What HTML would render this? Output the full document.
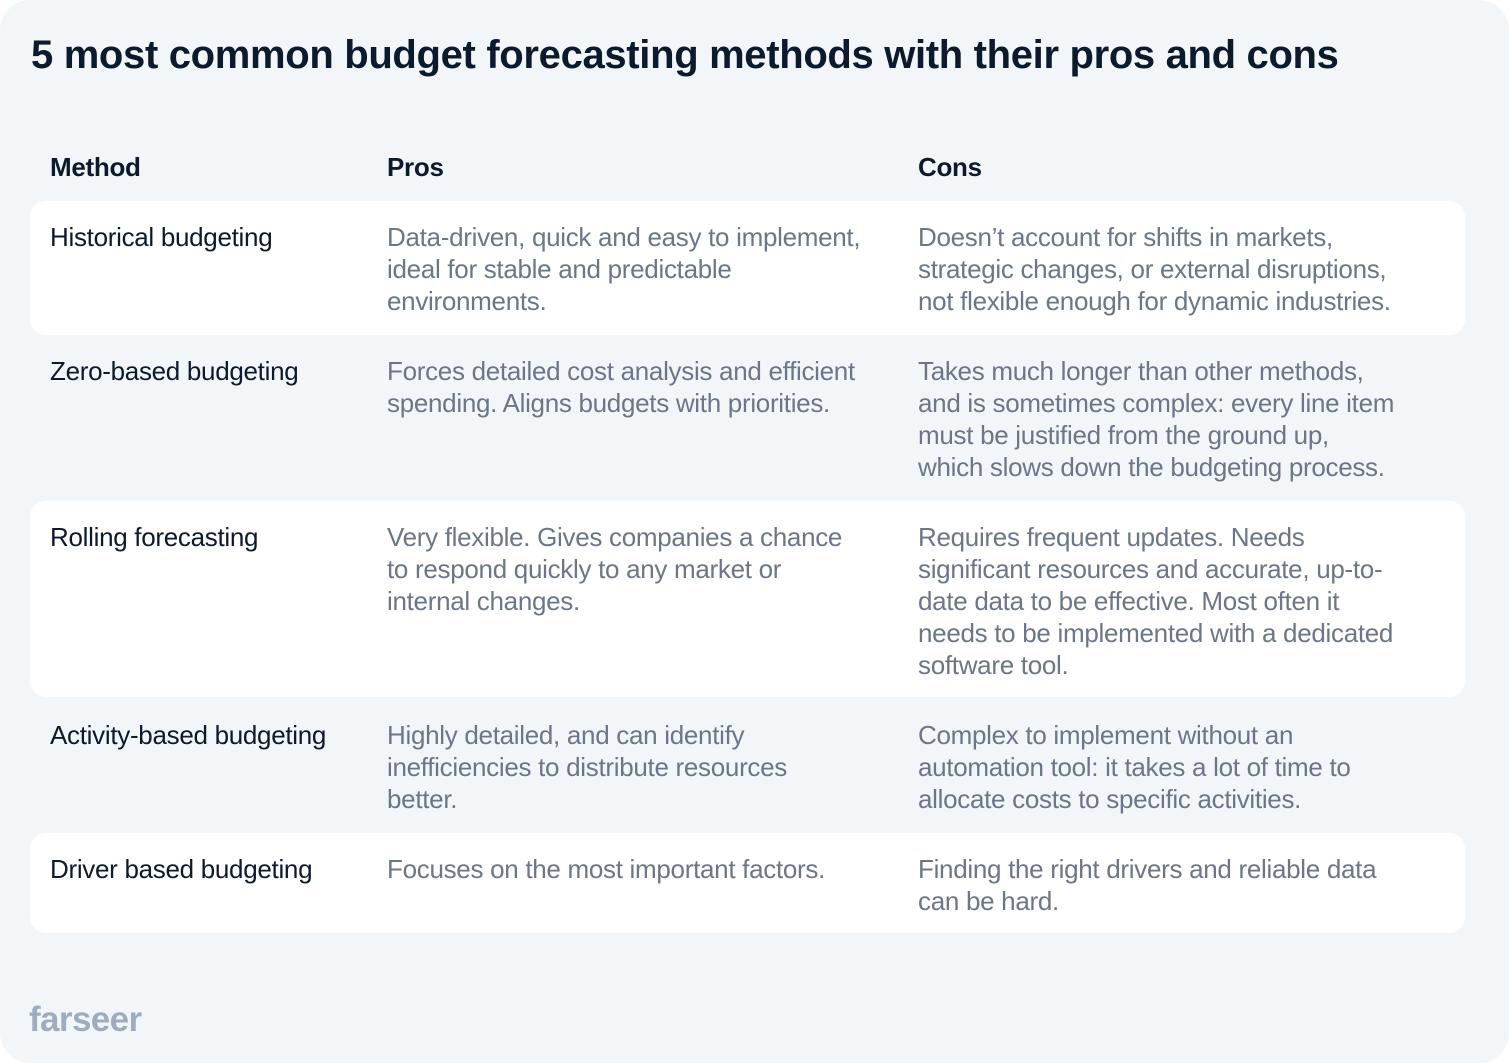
<!DOCTYPE html>
<html><head><meta charset="utf-8"><style>
html,body{margin:0;padding:0;background:#fff;}
body{width:1509px;height:1063px;position:relative;overflow:hidden;font-family:"Liberation Sans",sans-serif;}
#card{position:absolute;left:0;top:0;width:1509px;height:1063px;background:#f3f6f9;border-radius:30px;}
h1{position:absolute;left:31px;top:30px;margin:0;font-size:40px;line-height:50px;font-weight:bold;color:#0c1a2e;letter-spacing:-0.33px;white-space:nowrap;}
.hd{position:absolute;top:151px;font-size:26px;font-weight:bold;color:#0c1a2e;letter-spacing:-0.3px;line-height:32px;}
.row{position:absolute;left:30px;width:1435px;border-radius:16px;}
.row.w{background:#fff;}
.c{position:absolute;font-size:26px;line-height:32px;letter-spacing:-0.3px;white-space:nowrap;}
.m{left:20px;color:#0c1a2e;}
.p{left:357px;color:#6c7689;}
.k{left:888px;color:#6c7689;}
#logo{position:absolute;left:29px;top:998px;font-size:35px;font-weight:bold;color:#9eacc0;letter-spacing:-0.6px;line-height:44px;}
</style></head><body>
<div id="card">
<h1>5 most common budget forecasting methods with their pros and cons</h1>
<div class="hd" style="left:50px">Method</div>
<div class="hd" style="left:387px">Pros</div>
<div class="hd" style="left:918px">Cons</div>

<div class="row w" style="top:201px;height:134px">
<div class="c m" style="top:20px">Historical budgeting</div>
<div class="c p" style="top:20px">Data-driven, quick and easy to implement,<br>ideal for stable and predictable<br>environments.</div>
<div class="c k" style="top:20px">Doesn’t account for shifts in markets,<br>strategic changes, or external disruptions,<br>not flexible enough for dynamic industries.</div>
</div>

<div class="row" style="top:335px;height:166px">
<div class="c m" style="top:20px">Zero-based budgeting</div>
<div class="c p" style="top:20px">Forces detailed cost analysis and efficient<br>spending. Aligns budgets with priorities.</div>
<div class="c k" style="top:20px">Takes much longer than other methods,<br>and is sometimes complex: every line item<br>must be justified from the ground up,<br>which slows down the budgeting process.</div>
</div>

<div class="row w" style="top:501px;height:196px">
<div class="c m" style="top:20px">Rolling forecasting</div>
<div class="c p" style="top:20px">Very flexible. Gives companies a chance<br>to respond quickly to any market or<br>internal changes.</div>
<div class="c k" style="top:20px">Requires frequent updates. Needs<br>significant resources and accurate, up-to-<br>date data to be effective. Most often it<br>needs to be implemented with a dedicated<br>software tool.</div>
</div>

<div class="row" style="top:697px;height:136px">
<div class="c m" style="top:22px">Activity-based budgeting</div>
<div class="c p" style="top:22px">Highly detailed, and can identify<br>inefficiencies to distribute resources<br>better.</div>
<div class="c k" style="top:22px">Complex to implement without an<br>automation tool: it takes a lot of time to<br>allocate costs to specific activities.</div>
</div>

<div class="row w" style="top:833px;height:100px">
<div class="c m" style="top:20px">Driver based budgeting</div>
<div class="c p" style="top:20px">Focuses on the most important factors.</div>
<div class="c k" style="top:20px">Finding the right drivers and reliable data<br>can be hard.</div>
</div>

<div id="logo">farseer</div>
</div>
</body></html>
